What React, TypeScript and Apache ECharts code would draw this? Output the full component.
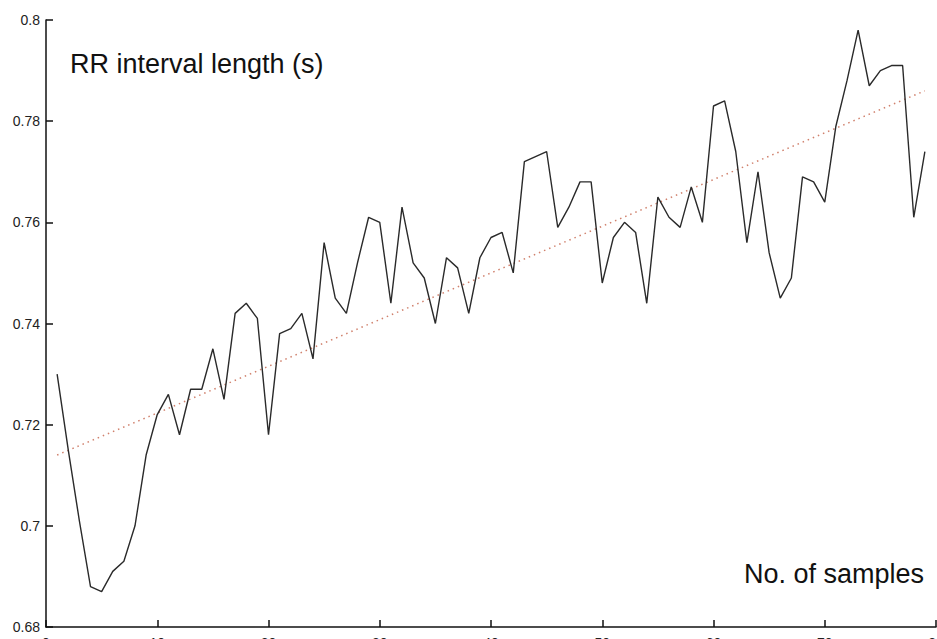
import React, { useEffect, useRef } from "react";
import * as echarts from "echarts";

const rrValues: number[] = [
  0.730, 0.715, 0.701, 0.688, 0.687, 0.691, 0.693, 0.700, 0.714, 0.722,
  0.726, 0.718, 0.727, 0.727, 0.735, 0.725, 0.742, 0.744, 0.741, 0.718,
  0.738, 0.739, 0.742, 0.733, 0.756, 0.745, 0.742, 0.752, 0.761, 0.760,
  0.744, 0.763, 0.752, 0.749, 0.740, 0.753, 0.751, 0.742, 0.753, 0.757,
  0.758, 0.750, 0.772, 0.773, 0.774, 0.759, 0.763, 0.768, 0.768, 0.748,
  0.757, 0.760, 0.758, 0.744, 0.765, 0.761, 0.759, 0.767, 0.760, 0.783,
  0.784, 0.774, 0.756, 0.770, 0.754, 0.745, 0.749, 0.769, 0.768, 0.764,
  0.779, 0.788, 0.798, 0.787, 0.790, 0.791, 0.791, 0.761, 0.774,
];
const sampleNumbers: number[] = rrValues.map((_, i) => i + 1);

const trendX: number[] = [1, 79];
const trendY: number[] = [0.714, 0.786];

const yTicks = { min: 0.68, max: 0.8, interval: 0.02 };
const xTicks = { min: 0, max: 80, interval: 10 };

const yTitle = "RR interval length (s)";
const xTitle = "No. of samples";

const FONT = "'Liberation Sans', Arial, Helvetica, sans-serif";

export default function App() {
  const ref = useRef<HTMLDivElement>(null);

  useEffect(() => {
    if (!ref.current) return;
    const chart = echarts.init(ref.current, undefined, { renderer: "svg" });
    chart.setOption({
      animation: false,
      backgroundColor: "#ffffff",
      grid: {
        left: 46,
        right: 1,
        top: 20,
        bottom: 12,
        containLabel: false,
        outerBoundsMode: "none",
      },
      xAxis: {
        type: "value",
        min: xTicks.min,
        max: xTicks.max,
        interval: xTicks.interval,
        axisLine: { show: true, lineStyle: { color: "#111", width: 1.5 } },
        axisTick: { show: true, inside: true, length: 7, lineStyle: { color: "#111", width: 1.5 } },
        axisLabel: { show: true, margin: 9, color: "#222", fontSize: 14, fontFamily: FONT },
        splitLine: { show: false },
      },
      yAxis: {
        type: "value",
        min: yTicks.min,
        max: yTicks.max,
        interval: yTicks.interval,
        axisLine: { show: true, lineStyle: { color: "#111", width: 1.5 } },
        axisTick: { show: true, inside: true, length: 7, lineStyle: { color: "#111", width: 1.5 } },
        axisLabel: { show: true, margin: 6, color: "#222", fontSize: 14, fontFamily: FONT },
        splitLine: { show: false },
      },
      series: [
        {
          type: "line",
          data: trendX.map((x, i) => [x, trendY[i]]),
          symbol: "none",
          lineStyle: { color: "#d0806c", width: 1.5, type: [1.5, 4] },
          z: 1,
        },
        {
          type: "line",
          data: sampleNumbers.map((x, i) => [x, rrValues[i]]),
          symbol: "none",
          lineStyle: { color: "#2a2a2a", width: 1.4 },
          z: 2,
        },
      ],
      graphic: [
        {
          type: "text",
          left: 70,
          top: 50,
          style: { text: yTitle, fill: "#111", font: `27px ${FONT}` },
        },
        {
          type: "text",
          right: 13,
          top: 560,
          style: { text: xTitle, fill: "#111", font: `27px ${FONT}` },
        },
      ],
    });
    return () => chart.dispose();
  }, []);

  return (
    <div
      ref={ref}
      style={{ position: "fixed", left: 0, top: 0, width: 937, height: 639, background: "#fff", overflow: "hidden" }}
    />
  );
}
